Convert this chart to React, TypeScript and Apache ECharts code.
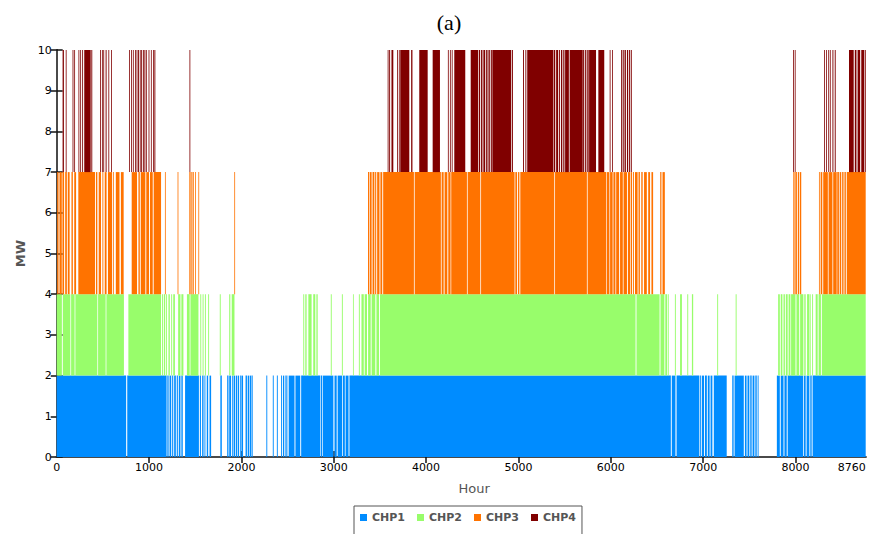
import React, { useEffect, useRef } from "react";
import * as echarts from "echarts";

// Operating periods of each CHP unit over the year, as [first hour, last hour] pairs.
const chp1On: number[][] = [
  [0, 752], [764, 1190],
  [1198, 1212], [1222, 1240], [1250, 1262], [1272, 1290], [1300, 1312], [1322, 1340], [1350, 1365],
  [1390, 1540],
  [1550, 1562], [1575, 1590], [1600, 1610], [1625, 1640], [1655, 1672],
  [1772, 1788],
  [1846, 1860], [1868, 1888], [1898, 1905], [1915, 1932],
  [1940, 1955], [1962, 1975], [1985, 1992], [2000, 2018],
  [2045, 2060], [2068, 2085], [2092, 2105], [2110, 2122],
  [2270, 2280], [2340, 2350], [2384, 2394],
  [2430, 2440], [2450, 2462], [2470, 2478], [2486, 2498],
  [2512, 2575], [2585, 2637], [2647, 2855], [2862, 2875], [2882, 2996], [3008, 3032],
  [3042, 3090], [3098, 3120], [3128, 3160],
  [3170, 6650], [6660, 6700], [6712, 6955],
  [6962, 6975], [6985, 7010], [7020, 7040], [7050, 7070], [7080, 7100], [7115, 7255],
  [7315, 7330], [7340, 7440], [7452, 7470], [7480, 7500], [7510, 7525], [7535, 7555],
  [7565, 7580], [7590, 7600],
  [7798, 7830], [7840, 7870], [7880, 7905], [7915, 8082],
  [8090, 8110], [8120, 8150], [8160, 8175], [8185, 8760],
];

const chp2On: number[][] = [
  [0, 56], [66, 148], [156, 194], [202, 440], [448, 530], [538, 728], [776, 1130],
  [1140, 1150], [1160, 1175], [1185, 1195], [1210, 1225], [1240, 1250], [1262, 1280],
  [1315, 1340], [1350, 1372],
  [1410, 1440], [1448, 1535],
  [1555, 1565], [1580, 1590], [1605, 1615], [1640, 1650],
  [1766, 1776],
  [1868, 1880], [1895, 1925],
  [2670, 2680], [2692, 2706], [2725, 2760], [2778, 2800], [2812, 2826],
  [2968, 2978], [3088, 3098], [3208, 3216], [3272, 3282],
  [3300, 3325], [3335, 3360], [3372, 3400], [3410, 3450], [3462, 3490], [3500, 6268],
  [6278, 6528], [6538, 6580], [6590, 6610], [6618, 6627],
  [6694, 6704], [6750, 6770], [6828, 6838], [6878, 6892], [7152, 7162], [7352, 7362],
  [7812, 7830], [7840, 7858], [7870, 7885], [7895, 7915], [7925, 7945], [7952, 8000],
  [8010, 8040], [8050, 8085], [8095, 8110], [8125, 8150], [8155, 8164],
  [8180, 8190],
  [8218, 8240], [8250, 8275], [8285, 8760],
];

const chp3On: number[][] = [
  [5, 20], [30, 55], [62, 80], [92, 110], [120, 140], [160, 175], [190, 210], [234, 415],
  [425, 440], [455, 480], [495, 505], [520, 540], [555, 600], [612, 620], [640, 680], [695, 725],
  [812, 870], [885, 900], [910, 960], [970, 1000], [1010, 1040], [1050, 1130],
  [1172, 1180], [1309, 1317], [1436, 1450], [1458, 1470], [1475, 1484], [1498, 1505],
  [1534, 1542], [1923, 1931],
  [3371, 3385], [3392, 3410], [3420, 3440], [3448, 3460], [3470, 3495], [3505, 3525],
  [3535, 3868],
  [3876, 4160], [4168, 4190], [4200, 4230], [4240, 4265], [4272, 4442], [4450, 4587],
  [4595, 4958], [4966, 4985], [4995, 5010], [5020, 5388], [5396, 5741], [5749, 5948],
  [5955, 5985], [5992, 6020], [6028, 6050], [6058, 6090], [6100, 6130], [6138, 6175], [6185, 6208],
  [6215, 6230], [6240, 6250], [6262, 6290], [6300, 6315], [6330, 6345], [6360, 6390],
  [6405, 6425], [6440, 6458],
  [6535, 6548], [6560, 6585],
  [7976, 7990], [7998, 8015], [8025, 8040], [8048, 8062],
  [8254, 8262], [8272, 8290], [8300, 8350], [8358, 8400], [8408, 8446],
  [8452, 8470], [8478, 8495], [8505, 8520], [8530, 8545], [8555, 8760],
];

const chp4On: number[][] = [
  [64, 78], [98, 102], [172, 180], [190, 198], [236, 244], [255, 262], [275, 282], [295, 302],
  [306, 368], [375, 385], [469, 476], [490, 498], [505, 512], [530, 540], [560, 566], [588, 596],
  [785, 790], [805, 810], [825, 830], [848, 856], [865, 872], [880, 890], [900, 908], [915, 925],
  [935, 942], [950, 958], [965, 975], [995, 1002], [1020, 1028], [1045, 1052], [1058, 1068],
  [1438, 1443],
  [3584, 3592], [3600, 3610], [3625, 3645], [3685, 3692], [3705, 3712], [3720, 3818],
  [3838, 3852], [3926, 4017], [4071, 4150], [4236, 4244], [4258, 4264], [4278, 4286],
  [4305, 4424], [4483, 4562],
  [4570, 4585], [4595, 4610], [4620, 4640], [4650, 4665], [4675, 4690], [4700, 4712],
  [4717, 4922], [4930, 4940],
  [5050, 5060], [5075, 5085], [5095, 5374],
  [5380, 5398], [5408, 5430], [5440, 5450], [5460, 5475], [5485, 5498], [5505, 5546], [5554, 5696],
  [5700, 5712], [5722, 5735], [5745, 5760], [5765, 5840],
  [5865, 5929], [5988, 5995], [6015, 6022],
  [6112, 6125], [6135, 6148], [6155, 6165], [6175, 6188], [6198, 6210], [6218, 6227],
  [7975, 7982], [7992, 7998],
  [8310, 8318], [8330, 8338], [8355, 8362], [8372, 8380], [8400, 8410], [8425, 8435],
  [8579, 8630], [8642, 8660], [8672, 8700], [8712, 8745], [8752, 8760],
];

const unitNames = ["CHP1", "CHP2", "CHP3", "CHP4"];
const unitCapacityMW = [2, 2, 3, 3];
const unitColors = ["#008cff", "#98fd6b", "#ff7300", "#800000"];
const unitSchedules = [chp1On, chp2On, chp3On, chp4On];

const hourTicks = [0, 1000, 2000, 3000, 4000, 5000, 6000, 7000, 8000, 8760];
const innerHourTicks = [1000, 2000, 3000, 4000, 5000, 6000, 7000, 8000];
const mwMax = 10;

const FRAME = "#4a4a4a";
const TICK_FONT = "DejaVu Sans";

export default function App() {
  const ref = useRef<HTMLDivElement>(null);

  useEffect(() => {
    if (!ref.current) return;
    const chart = echarts.init(ref.current, undefined, { renderer: "svg" });

    // Units are committed in merit order, so each one occupies a fixed MW band.
    let base = 0;
    const series = unitSchedules.map((periods, i) => {
      const lo = base;
      const hi = base + unitCapacityMW[i];
      base = hi;
      return {
        type: "custom",
        name: unitNames[i],
        xAxisIndex: 0,
        yAxisIndex: 0,
        clip: true,
        itemStyle: { color: unitColors[i] },
        encode: { x: [0, 1], y: [2, 3] },
        data: periods.map(([s, e]) => [s, e, lo, hi]),
        renderItem: (_params: any, api: any) => {
          const p0 = api.coord([api.value(0), api.value(3)]);
          const p1 = api.coord([api.value(1), api.value(2)]);
          const w = Math.max(p1[0] - p0[0], 0.8);
          return {
            type: "rect",
            shape: { x: p0[0], y: p0[1], width: w, height: p1[1] - p0[1] },
            style: { fill: api.visual("color") },
          };
        },
      };
    });

    const plain = (v: number) => String(v);

    const option: any = {
      animation: false,
      backgroundColor: "#ffffff",
      title: {
        text: "(a)",
        left: 444,
        top: 6,
        textAlign: "center",
        textStyle: {
          fontFamily: "Liberation Serif",
          fontSize: 22,
          fontWeight: "normal",
          color: "#000",
        },
      },
      legend: {
        data: unitNames,
        left: 354,
        top: 506,
        padding: [6, 6, 16, 6],
        borderColor: "#555",
        borderWidth: 1,
        itemWidth: 7,
        itemHeight: 7,
        itemGap: 12,
        icon: "rect",
        textStyle: {
          fontFamily: TICK_FONT,
          fontSize: 11,
          fontWeight: "bold",
          color: "#555",
        },
      },
      grid: { left: 56.7, right: 8.3, top: 50, bottom: 77, containLabel: false },
      xAxis: [
        {
          type: "value",
          min: 0,
          max: 8760,
          name: "Hour",
          nameLocation: "middle",
          nameGap: 25,
          nameTextStyle: {
            fontFamily: TICK_FONT,
            fontSize: 13,
            color: "#555",
            padding: [0, 0, 0, 26],
          },
          axisLine: { show: true, lineStyle: { color: FRAME, width: 2 } },
          axisTick: {
            show: true,
            inside: true,
            length: 6,
            customValues: innerHourTicks,
            lineStyle: { color: "#111", width: 1.5 },
          },
          axisLabel: {
            customValues: hourTicks,
            formatter: plain,
            alignMaxLabel: "right",
            margin: 5,
            fontFamily: TICK_FONT,
            fontSize: 11,
            color: "#000",
          },
          splitLine: { show: false },
        },
        {
          type: "value",
          position: "top",
          min: 0,
          max: 8760,
          axisLine: { show: true, lineStyle: { color: FRAME, width: 2 } },
          axisTick: {
            show: true,
            inside: true,
            length: 6,
            customValues: innerHourTicks,
            lineStyle: { color: "#111", width: 1.5 },
          },
          axisLabel: { show: false },
          splitLine: { show: false },
        },
      ],
      yAxis: [
        {
          type: "value",
          min: 0,
          max: mwMax,
          interval: 1,
          name: "MW",
          nameLocation: "middle",
          nameGap: 30,
          nameTextStyle: {
            fontFamily: TICK_FONT,
            fontSize: 13,
            fontWeight: "bold",
            color: "#555",
          },
          axisLine: { show: true, lineStyle: { color: FRAME, width: 2 } },
          axisTick: { show: true, inside: true, length: 6, lineStyle: { color: "#111", width: 1.5 } },
          axisLabel: {
            formatter: plain,
            margin: 5,
            fontFamily: TICK_FONT,
            fontSize: 11,
            color: "#000",
          },
          splitLine: { show: false },
        },
        {
          type: "value",
          position: "right",
          min: 0,
          max: mwMax,
          interval: 1,
          axisLine: { show: true, lineStyle: { color: FRAME, width: 2 } },
          axisTick: { show: true, inside: true, length: 6, lineStyle: { color: "#111", width: 1.5 } },
          axisLabel: { show: false },
          splitLine: { show: false },
        },
      ],
      series,
    };

    chart.setOption(option);
    return () => chart.dispose();
  }, []);

  return (
    <div
      ref={ref}
      style={{ position: "fixed", left: 0, top: 0, width: 874, height: 534 }}
    />
  );
}
